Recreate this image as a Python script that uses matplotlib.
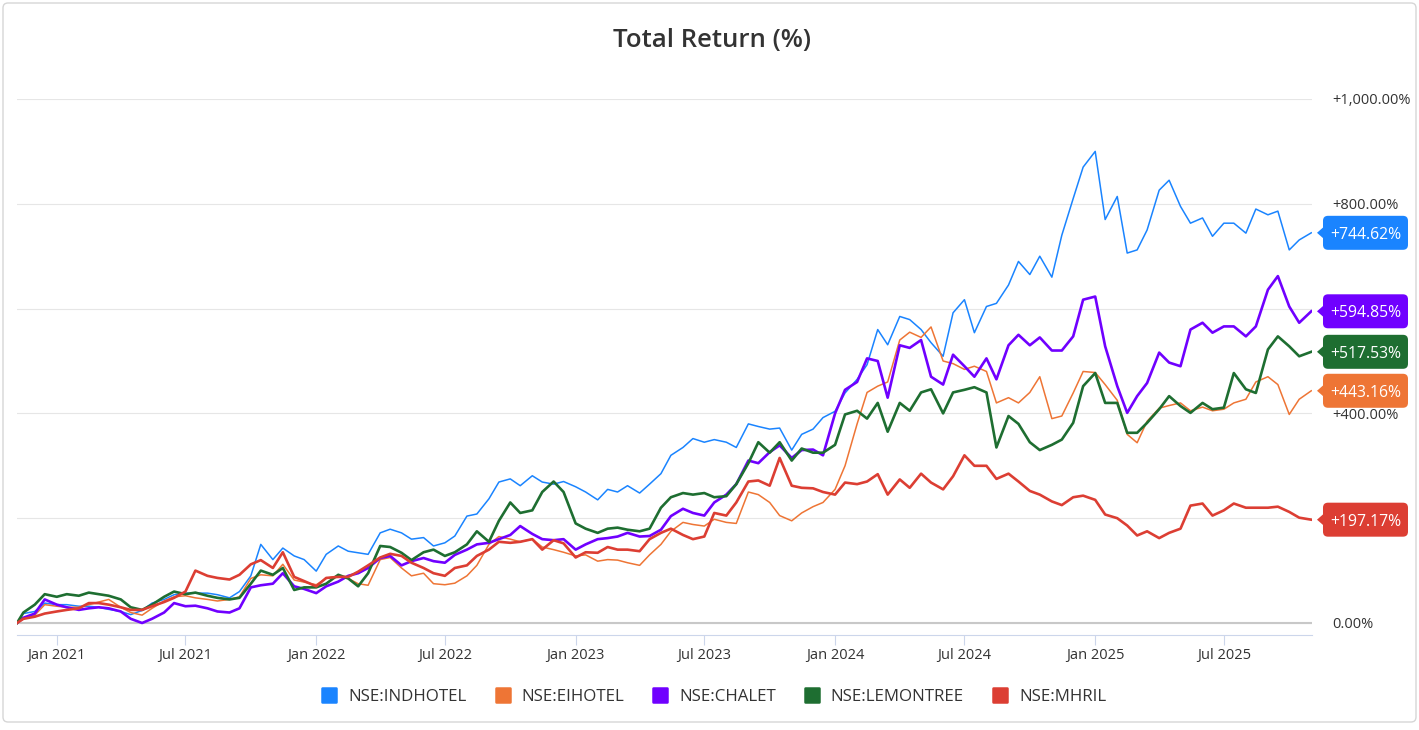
"""Total return comparison chart for Indian hotel stocks."""

import matplotlib
matplotlib.use("Agg")
import matplotlib.dates as mdates
import matplotlib.pyplot as plt
import matplotlib.transforms as mtransforms
import pandas as pd
from matplotlib.lines import Line2D
from matplotlib.markers import MarkerStyle
from matplotlib.patches import FancyBboxPatch, Polygon
from matplotlib.ticker import FuncFormatter

plt.rcParams["font.family"] = ["Open Sans", "DejaVu Sans"]

# first trading day, then readings on the 1st and 15th of each month
DATES = [pd.Timestamp("2020-11-06")] + list(pd.date_range("2020-11-15", "2025-11-01", freq="SMS"))

TICKERS = ["NSE:INDHOTEL", "NSE:EIHOTEL", "NSE:CHALET", "NSE:LEMONTREE", "NSE:MHRIL"]
COLORS = ["#1a84ff", "#ee7535", "#7000ff", "#1e6e31", "#dc3e33"]
WIDTHS = [1.1, 1.1, 1.9, 1.9, 1.9]

INDHOTEL = [
    0, 18, 22, 38, 35, 35, 32, 32, 30, 26, 22, 16, 24, 38, 45, 54, 57, 57, 57, 54,
    48, 60, 90, 150, 121, 143, 128, 121, 99, 131, 147, 137, 134, 131, 172, 179, 172, 160, 163, 147,
    153, 166, 204, 208, 237, 269, 275, 262, 281, 269, 265, 270, 260, 250, 235, 255, 250, 262, 248, 265,
    285, 320, 335, 352, 345, 350, 345, 335, 380, 375, 370, 372, 330, 360, 370, 392, 404, 439, 465, 493,
    560, 531, 585, 579, 560, 535, 509, 592, 617, 554, 604, 610, 645, 690, 665, 700, 660, 740, 810, 870,
    900, 770, 814, 706, 712, 750, 826, 845, 795, 763, 773, 738, 763, 763, 744, 790, 779, 786, 712, 731,
    744.62,
]
EIHOTEL = [
    0, 8, 15, 35, 32, 30, 30, 35, 40, 45, 30, 20, 15, 28, 42, 50, 52, 48, 45, 42,
    45, 50, 85, 92, 90, 112, 82, 78, 73, 85, 90, 85, 75, 72, 121, 125, 105, 90, 95, 75,
    73, 76, 90, 110, 150, 165, 160, 155, 160, 145, 140, 135, 128, 130, 118, 121, 120, 115, 110, 130,
    150, 175, 192, 188, 185, 198, 192, 190, 250, 245, 230, 205, 195, 210, 222, 230, 255, 300, 380, 440,
    452, 460, 540, 555, 545, 565, 500, 495, 484, 490, 480, 420, 430, 420, 440, 470, 390, 395, 439, 480,
    478, 455, 425, 360, 344, 385, 410, 415, 420, 405, 412, 405, 408, 420, 427, 460, 470, 455, 398, 427,
    443.16,
]
CHALET = [
    0, 10, 18, 45, 35, 30, 25, 28, 30, 28, 22, 8, 0, 8, 20, 38, 32, 33, 28, 22,
    20, 28, 68, 72, 75, 95, 70, 65, 57, 70, 79, 90, 95, 105, 124, 128, 110, 118, 124, 118,
    115, 130, 140, 150, 153, 160, 168, 185, 170, 160, 158, 160, 140, 150, 160, 162, 165, 172, 165, 166,
    178, 204, 218, 210, 205, 230, 245, 265, 310, 305, 326, 339, 315, 330, 331, 320, 400, 445, 460, 505,
    500, 430, 530, 525, 540, 470, 455, 512, 490, 470, 505, 465, 530, 550, 530, 545, 520, 520, 547, 617,
    623, 528, 452, 401, 433, 458, 516, 497, 490, 560, 573, 554, 566, 566, 547, 566, 636, 662, 604, 573,
    594.85,
]
LEMONTREE = [
    0, 20, 35, 55, 50, 55, 52, 58, 55, 52, 45, 30, 25, 35, 50, 60, 55, 58, 52, 48,
    45, 48, 75, 100, 92, 105, 63, 68, 68, 75, 92, 85, 70, 95, 147, 145, 134, 120, 135, 140,
    128, 135, 150, 175, 155, 195, 230, 210, 215, 250, 270, 250, 190, 180, 172, 180, 182, 178, 175, 180,
    220, 240, 248, 245, 248, 240, 242, 265, 305, 345, 325, 345, 310, 333, 325, 325, 340, 398, 405, 390,
    420, 365, 420, 405, 440, 446, 400, 440, 445, 450, 440, 335, 395, 380, 345, 330, 340, 350, 382, 452,
    477, 420, 420, 363, 363, 382, 408, 433, 414, 401, 420, 408, 411, 477, 446, 439, 522, 547, 528, 509,
    517.53,
]
MHRIL = [
    0, 8, 12, 18, 22, 25, 28, 38, 38, 35, 30, 25, 25, 32, 40, 48, 60, 100, 90, 86,
    83, 92, 112, 120, 105, 135, 88, 80, 70, 86, 88, 88, 98, 110, 125, 132, 128, 115, 105, 95,
    90, 105, 110, 128, 140, 155, 153, 155, 160, 140, 158, 152, 125, 135, 134, 145, 140, 140, 137, 160,
    172, 180, 168, 160, 165, 210, 205, 230, 270, 272, 262, 315, 262, 258, 257, 250, 245, 268, 265, 270,
    284, 245, 274, 258, 285, 268, 255, 280, 320, 300, 300, 275, 285, 270, 252, 245, 232, 225, 240, 243,
    235, 207, 200, 186, 167, 175, 162, 172, 180, 224, 228, 205, 215, 228, 220, 220, 220, 222, 212, 201,
    197.17,
]
SERIES = [INDHOTEL, EIHOTEL, CHALET, LEMONTREE, MHRIL]

Y_TICKS = [0, 200, 400, 600, 800, 1000]
# these two labels sit fully under the value tags in the original, so they are left blank
HIDDEN_LABELS = [200, 600]
TEXT = "#333333"


def pct_label(v, _pos=None):
    if v in HIDDEN_LABELS:
        return ""
    if v == 0:
        return "0.00%"
    return f"+{v:,.2f}%"


def add_badge(fig, ax, value, color):
    """Draw a value tag with a small arrow, anchored at the right end of the plot."""
    # coordinates below are in inches, measured from the point (right edge, value)
    trans = fig.dpi_scale_trans + mtransforms.ScaledTranslation(1.0, value, ax.get_yaxis_transform())
    ax.add_artist(Polygon([(0.05, 0), (0.13, 0.07), (0.13, -0.07)], closed=True,
                          fc=color, ec="none", transform=trans, clip_on=False, zorder=9))
    ax.add_artist(FancyBboxPatch((0.11, -0.17), 0.85, 0.34,
                                 boxstyle="round,pad=0,rounding_size=0.05",
                                 fc=color, ec="none", transform=trans, clip_on=False, zorder=9))
    ax.text(0.535, 0.0, f"+{value:.2f}%", transform=trans, ha="center", va="center_baseline",
            fontsize=11.3, color="white", clip_on=False, zorder=10)


def main() -> None:
    fig = plt.figure(figsize=(14.19, 7.30), dpi=100)

    # outer card border
    fig.patches.append(FancyBboxPatch(
        (0.03, 0.08), 14.13, 7.19, boxstyle="round,pad=0,rounding_size=0.05",
        transform=fig.dpi_scale_trans, fc="none", ec="#d6d6d6", lw=1.0, zorder=0,
    ))

    ax = fig.add_axes([0.01198, 0.13014, 0.91261, 0.73425])
    ax.set_facecolor("none")

    for values, color, lw in zip(SERIES, COLORS, WIDTHS):
        ax.plot(DATES, values, color=color, lw=lw, solid_joinstyle="round", zorder=3)

    ax.set_xlim(pd.Timestamp("2020-11-06"), pd.Timestamp("2025-11-02"))
    ax.set_ylim(-22.9, 1000)

    ax.set_yticks(Y_TICKS)
    ax.yaxis.set_major_formatter(FuncFormatter(pct_label))
    ax.yaxis.tick_right()
    ax.tick_params(axis="y", length=0, pad=14.4, labelsize=10.5, labelcolor=TEXT)
    ax.yaxis.grid(True, color="#e6e6e6", lw=0.8)
    ax.axhline(0, color="#c8c8c8", lw=1.5, zorder=2)

    ax.xaxis.set_major_locator(mdates.MonthLocator(bymonth=[1, 7]))
    ax.xaxis.set_major_formatter(mdates.DateFormatter("%b %Y"))
    ax.tick_params(axis="x", direction="out", length=7.2, width=0.8, color="#ccd6eb",
                   pad=2, labelsize=10.5, labelcolor=TEXT)

    for side in ["left", "right", "top"]:
        ax.spines[side].set_visible(False)
    ax.spines["bottom"].set_color("#ccd6eb")
    ax.spines["bottom"].set_linewidth(0.8)

    for values, color in zip(SERIES, COLORS):
        add_badge(fig, ax, values[-1], color)

    fig.text(0.5019, 0.944, "Total Return (%)", ha="center", va="center",
             fontsize=18.5, fontweight="semibold", color=TEXT)

    handles = [
        Line2D([], [], ls="", marker=MarkerStyle("s", joinstyle="round"), ms=10.6,
               mfc=c, mec=c, mew=1.8)
        for c in COLORS
    ]
    fig.legend(handles, TICKERS, loc="center", bbox_to_anchor=(713.5 / 1419, 0.0452),
               ncol=5, frameon=False, fontsize=12.2, labelcolor=TEXT,
               handlelength=1.0, handletextpad=0.6, columnspacing=1.65)

    fig.savefig("out.png", dpi=100)
    plt.close(fig)


if __name__ == "__main__":
    main()
